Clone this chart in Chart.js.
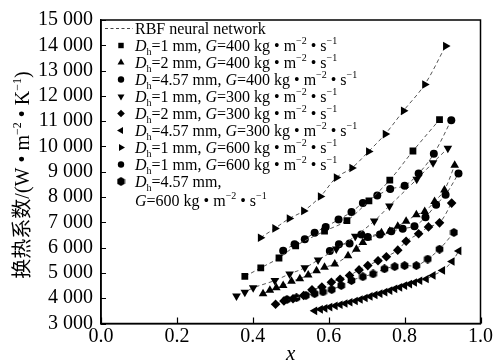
<!DOCTYPE html>
<html><head><meta charset="utf-8">
<script src="https://cdn.jsdelivr.net/npm/chart.js@4.4.1/dist/chart.umd.min.js"></script>
<style>html,body{margin:0;padding:0;background:#fff;}</style>
</head><body>
<canvas id="c" width="494" height="363"></canvas>
<script>
// ---- tick values ----
const xTicks = [0, 0.2, 0.4, 0.6, 0.8, 1.0];
const yTicks = [3000, 4000, 5000, 6000, 7000, 8000, 9000, 10000, 11000, 12000, 13000, 14000, 15000];

// ---- text ----
const xTitle = '<i>x</i>';
const yTitle = '换热系数/(W • m<sup>−2</sup> • K<sup>−1</sup>)';
const rbfLabel = 'RBF neural network';
const seriesLabels = [
  '<i>D</i><sub>h</sub>=1 mm, <i>G</i>=400 kg • m<sup>−2</sup> • s<sup>−1</sup>',
  '<i>D</i><sub>h</sub>=2 mm, <i>G</i>=400 kg • m<sup>−2</sup> • s<sup>−1</sup>',
  '<i>D</i><sub>h</sub>=4.57 mm, <i>G</i>=400 kg • m<sup>−2</sup> • s<sup>−1</sup>',
  '<i>D</i><sub>h</sub>=1 mm, <i>G</i>=300 kg • m<sup>−2</sup> • s<sup>−1</sup>',
  '<i>D</i><sub>h</sub>=2 mm, <i>G</i>=300 kg • m<sup>−2</sup> • s<sup>−1</sup>',
  '<i>D</i><sub>h</sub>=4.57 mm, <i>G</i>=300 kg • m<sup>−2</sup> • s<sup>−1</sup>',
  '<i>D</i><sub>h</sub>=1 mm, <i>G</i>=600 kg • m<sup>−2</sup> • s<sup>−1</sup>',
  '<i>D</i><sub>h</sub>=1 mm, <i>G</i>=600 kg • m<sup>−2</sup> • s<sup>−1</sup>',
  '<i>D</i><sub>h</sub>=4.57 mm,\n<i>G</i>=600 kg • m<sup>−2</sup> • s<sup>−1</sup>'
];

// ---- series values ----
const s1x = [0.379, 0.421, 0.469, 0.513, 0.589, 0.648, 0.706, 0.761, 0.822, 0.892];
const s1y = [4860, 5200, 5590, 6070, 6650, 7070, 7850, 8670, 9820, 11060];

const s2x = [0.427, 0.445, 0.462, 0.48, 0.502, 0.524, 0.546, 0.568, 0.589, 0.616, 0.651, 0.673, 0.69, 0.703, 0.739, 0.761, 0.782, 0.804, 0.831, 0.853, 0.879, 0.905, 0.932];
const s2y = [4180, 4310, 4410, 4500, 4670, 4770, 4920, 5090, 5220, 5350, 5680, 5940, 6200, 6390, 6590, 6650, 6850, 7040, 7300, 7430, 7820, 8280, 9260];

const s3x = [0.48, 0.51, 0.537, 0.563, 0.592, 0.626, 0.66, 0.69, 0.728, 0.762, 0.8, 0.837, 0.877, 0.923];
const s3y = [5880, 6130, 6330, 6590, 6820, 7110, 7410, 7760, 8060, 8320, 8450, 8930, 9710, 11040];

const s4x = [0.357, 0.379, 0.401, 0.458, 0.497, 0.537, 0.572, 0.62, 0.67, 0.72, 0.76, 0.832, 0.875, 0.914];
const s4y = [4090, 4240, 4410, 4700, 4960, 5200, 5510, 5950, 6450, 7050, 7650, 8700, 9360, 9930];

const s5x = [0.46, 0.482, 0.506, 0.534, 0.556, 0.582, 0.607, 0.63, 0.655, 0.68, 0.703, 0.73, 0.752, 0.782, 0.804, 0.837, 0.863, 0.892, 0.924];
const s5y = [3760, 3890, 3980, 4110, 4330, 4440, 4630, 4750, 4900, 5120, 5290, 5480, 5640, 5900, 6250, 6550, 6820, 6980, 7760];

const s6x = [0.563, 0.578, 0.59, 0.603, 0.617, 0.63, 0.643, 0.656, 0.67, 0.683, 0.696, 0.709, 0.722, 0.735, 0.748, 0.761, 0.774, 0.787, 0.8, 0.813, 0.826, 0.84, 0.857, 0.875, 0.9, 0.925, 0.943];
const s6y = [3500, 3560, 3600, 3650, 3700, 3740, 3790, 3840, 3890, 3950, 4010, 4070, 4130, 4180, 4240, 4300, 4370, 4430, 4500, 4560, 4620, 4690, 4760, 4900, 5100, 5450, 5870];

const s7x = [0.42, 0.458, 0.496, 0.534, 0.578, 0.62, 0.661, 0.705, 0.749, 0.797, 0.853, 0.908];
const s7y = [6390, 6760, 7150, 7450, 8020, 8770, 9150, 9800, 10490, 11410, 12450, 13970];

const s8x = [0.603, 0.627, 0.655, 0.686, 0.703, 0.735, 0.765, 0.795, 0.826, 0.855, 0.883, 0.908, 0.942];
const s8y = [5870, 6130, 6160, 6520, 6420, 6520, 6650, 6750, 6850, 7200, 7700, 8090, 8930];

const s9x = [0.49, 0.515, 0.54, 0.563, 0.585, 0.608, 0.633, 0.66, 0.69, 0.717, 0.747, 0.774, 0.8, 0.831, 0.861, 0.892, 0.93];
const s9y = [3950, 4020, 4110, 4180, 4250, 4340, 4500, 4700, 4850, 4960, 5160, 5250, 5290, 5290, 5550, 5940, 6600];

const seriesX = [s1x, s2x, s3x, s4x, s5x, s6x, s7x, s8x, s9x];
const seriesY = [s1y, s2y, s3y, s4y, s5y, s6y, s7y, s8y, s9y];

// ---- styles ----
const hex = document.createElement('canvas');
hex.width = 9; hex.height = 9;
(function(){ const g = hex.getContext('2d'); g.fillStyle = '#000'; g.beginPath();
  for (let k = 0; k < 6; k++) { const a = Math.PI/6 + k*Math.PI/3; const px = 4.5 + 4.4*Math.cos(a), py = 4.5 + 4.4*Math.sin(a); k ? g.lineTo(px, py) : g.moveTo(px, py); }
  g.closePath(); g.fill(); })();
const markerStyles = [
  {pointStyle:'rect', rotation:0, radius:4.8},
  {pointStyle:'triangle', rotation:0, radius:5},
  {pointStyle:'circle', rotation:0, radius:4},
  {pointStyle:'triangle', rotation:180, radius:5},
  {pointStyle:'rectRot', rotation:0, radius:4.8},
  {pointStyle:'triangle', rotation:270, radius:5},
  {pointStyle:'triangle', rotation:90, radius:5},
  {pointStyle:'circle', rotation:0, radius:4},
  {pointStyle:hex, rotation:0, radius:4.5}
];
const FAM = "'Liberation Serif','Noto Sans CJK SC',serif";

function parseRuns(s){
  const parts = s.split(/(<\/?(?:i|sub|sup)>)/); let it=false, sub=false, sup=false; const runs=[];
  for (const p of parts){
    if (p==='<i>') it=true; else if (p==='</i>') it=false;
    else if (p==='<sub>') sub=true; else if (p==='</sub>') sub=false;
    else if (p==='<sup>') sup=true; else if (p==='</sup>') sup=false;
    else if (p) runs.push({t:p, it, sub, sup});
  }
  return runs;
}
function drawRuns(ctx, s, x, y, size, align){
  const runs = parseRuns(s);
  const fontOf = r => (r.it?'italic ':'') + ((r.sub||r.sup)?Math.round(size*0.6):size) + 'px ' + FAM;
  let w = 0;
  for (const r of runs){ ctx.font = fontOf(r); r.w = ctx.measureText(r.t).width; w += r.w; }
  let cx = align==='center' ? x - w/2 : x;
  ctx.textBaseline = 'alphabetic'; ctx.textAlign = 'left'; ctx.fillStyle = '#000';
  for (const r of runs){ ctx.font = fontOf(r); const dy = r.sub ? size*0.22 : (r.sup ? -size*0.42 : 0); ctx.fillText(r.t, cx, y+dy); cx += r.w; }
}

const decor = {
  id: 'decor',
  afterDraw(chart){
    const ctx = chart.ctx, a = chart.chartArea, xs = chart.scales.x, ys = chart.scales.y;
    ctx.save();
    ctx.strokeStyle = '#000'; ctx.lineWidth = 1.5;
    ctx.strokeRect(a.left, a.top, a.right - a.left, a.bottom - a.top);
    ctx.lineWidth = 1.2;
    ctx.beginPath();
    for (const v of yTicks){ const p = Math.round(ys.getPixelForValue(v)) + 0.5; ctx.moveTo(a.left, p); ctx.lineTo(a.left + 5, p); }
    for (const v of xTicks){ const p = Math.round(xs.getPixelForValue(v)) + 0.5; ctx.moveTo(p, a.bottom); ctx.lineTo(p, a.bottom - 6); }
    ctx.stroke();
    // axis titles
    drawRuns(ctx, xTitle, (a.left + a.right)/2, 360, 21, 'center');
    ctx.save(); ctx.translate(29, 175); ctx.rotate(-Math.PI/2);
    drawRuns(ctx, yTitle, 0, 0, 20, 'center'); ctx.restore();
    // legend
    const lx = 121, tx = 135, step = 17; let yc = 28.5;
    ctx.strokeStyle = '#444'; ctx.lineWidth = 1; ctx.setLineDash([3, 2.5]);
    ctx.beginPath(); ctx.moveTo(105, yc); ctx.lineTo(133, yc); ctx.stroke(); ctx.setLineDash([]);
    drawRuns(ctx, rbfLabel, tx, yc + 5.5, 16, 'left');
    for (let i = 0; i < seriesLabels.length; i++){
      yc += step;
      const m = markerStyles[i];
      ctx.fillStyle = '#000'; ctx.strokeStyle = '#000';
      Chart.helpers.drawPoint(ctx, {pointStyle: m.pointStyle, rotation: m.rotation, radius: m.radius*0.8, borderWidth: 0}, lx, yc);
      const lines = seriesLabels[i].split('\n');
      lines.forEach((ln, j) => drawRuns(ctx, ln, tx, yc + 5.5 + j*19, 16, 'left'));
    }
    ctx.restore();
  }
};

const datasets = seriesX.map((xs, i) => ({
  label: seriesLabels[i],
  data: xs.map((x, k) => ({x, y: seriesY[i][k]})),
  showLine: true,
  borderColor: '#555',
  borderWidth: 1,
  borderDash: [4, 3],
  tension: 0.35,
  backgroundColor: '#000',
  pointBackgroundColor: '#000',
  pointBorderColor: '#000',
  pointBorderWidth: 0,
  pointStyle: markerStyles[i].pointStyle,
  rotation: markerStyles[i].rotation,
  pointRadius: markerStyles[i].radius,
  fill: false
}));

new Chart(document.getElementById('c'), {
  type: 'scatter',
  data: { datasets },
  options: {
    responsive: false, animation: false, devicePixelRatio: 1,
    layout: { padding: { left: 0, right: 13, top: 16, bottom: 0 } },
    plugins: { legend: { display: false }, tooltip: { enabled: false } },
    scales: {
      x: {
        type: 'linear', min: 0, max: 1,
        afterBuildTicks: s => { s.ticks = xTicks.map(v => ({value: v})); },
        afterFit: s => { s.height = 39.5; },
        ticks: { callback: v => Number(v).toFixed(1), font: { family: FAM, size: 20 }, color: '#000', padding: 1, maxRotation: 0, autoSkip: false },
        grid: { display: true, drawOnChartArea: false, drawTicks: false },
        border: { display: true, color: '#000', width: 1.5 }
      },
      y: {
        type: 'linear', min: 3000, max: 15000,
        afterBuildTicks: s => { s.ticks = yTicks.map(v => ({value: v})); },
        afterFit: s => { s.width = 101; },
        ticks: { callback: v => Math.floor(v/1000) + ' ' + String(v % 1000).padStart(3, '0'), font: { family: FAM, size: 20 }, color: '#000', padding: 8, autoSkip: false },
        grid: { display: true, drawOnChartArea: false, drawTicks: false },
        border: { display: true, color: '#000', width: 1.5 }
      }
    }
  },
  plugins: [decor]
});
</script>
</body></html>
